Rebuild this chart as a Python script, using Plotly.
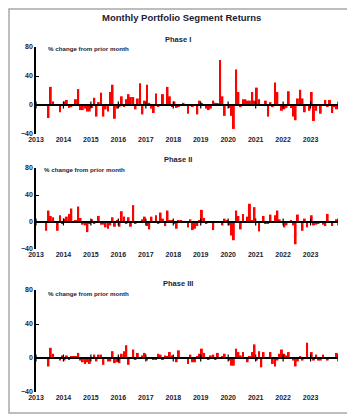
import plotly.graph_objects as go
import pandas as pd

# ---------------- data ----------------
start_month = "2013-05-01"
end_month = "2023-12-01"
year_labels = ["2013", "2014", "2015", "2016", "2017", "2018",
               "2019", "2020", "2021", "2022", "2023"]
phase_names = ["Phase I", "Phase II", "Phase III"]
y_ticks = [80, 40, 0, -40]

phase1 = [0, -18, 25, 5, 1, 0, -10, -1,
          5, 7, -4, -3, 1, 8, 22, -7, -7, -5, -9, -9,
          -4, 10, -16, 4, 17, -16, -6, -9, 18, 28, -19, -5,
          -3, 12, -2, 8, 15, 11, 11, -6, 9, 30, -13, 6,
          28, 3, -5, -11, 16, -2, 0, 15, 1, 25, 12, -2,
          5, -4, -2, -1, 3, 0, -12, 1, -2, 0, -13, 6,
          2, 0, -5, -7, -5, 6, 3, 2, 62, 12, -15, 1,
          -4, -15, -33, 49, 18, -3, 8, 8, 6, 6, 18, 6,
          24, 8, 0, 0, 6, -16, 4, -3, 31, 18, 0, -8,
          -6, -4, 19, -4, -16, -21, 9, 21, 9, -10, 0, -8,
          18, -22, -8, 0, -12, 0, 7, -2, 7, -11, -3, -6]

phase2 = [-13, 17, 9, 7, 1, -13, 10, -3,
          5, 8, 12, 20, 0, 3, 23, 6, -4, -5, -15, -2,
          4, -2, 0, 9, -4, -4, -8, -10, -5, 7, -7, 2,
          -7, 16, 8, -2, 7, -7, 25, -2, 0, 1, 4, 8,
          -6, -11, 8, 0, 10, -3, 14, 5, -6, 17, 3, 2,
          -2, -10, 3, 2, 1, 0, -8, 4, -12, -10, -6, 2,
          18, 6, -3, 0, 0, -12, 0, 0, 0, -5, 5, 2,
          -5, -20, -27, 17, 9, -11, 12, 0, 8, 27, 2, 22,
          0, -14, 0, 9, -2, -3, 11, 1, 10, 17, 4, 0,
          -8, -5, 0, 3, -5, -33, 11, 0, -13, 5, -8, 0,
          10, -5, -4, -2, 1, -4, -6, 12, -1, -6, 0, 4]

phase3 = [0, -10, 12, 5, 0, 0, -3, 3,
          -3, 3, -2, 2, 2, 2, 6, -3, -5, -7, -5, -7,
          0, 4, -4, 4, 4, -8, 0, -4, -4, 8, -6, -5,
          -6, 5, 8, 15, -8, 1, 10, -2, 6, 0, 3, 6,
          -3, 0, 0, -2, -2, 5, 4, -2, 3, 2, 7, 3,
          0, -5, 9, 0, 1, -1, -7, 4, -5, -5, 2, 5,
          11, 6, 1, -2, 3, 4, -2, 6, 0, 2, 5, 0,
          -3, -9, -9, 11, 7, 3, 7, 0, -5, 2, 7, 16,
          -3, 8, -11, 7, 1, 1, 7, -7, -10, -3, 5, 10,
          5, 3, 7, 0, -3, -10, -4, 2, -3, 0, 18, 0,
          7, -3, 4, -3, -3, 4, 0, -3, 0, 1, 1, 6]

series = [phase1, phase2, phase3]

# ---------------- layout helpers ----------------
PAGE_OFF = 8           # default page margin of the HTML body
W, H = 355 - PAGE_OFF, 416 - PAGE_OFF
FONT = "Liberation Sans, Arial, sans-serif"
TXT = "#1c2233"


def px_x(x):
    return (x - PAGE_OFF) / W


def px_y(y):
    return 1 - (y - PAGE_OFF) / H


months = pd.date_range(start_month, end_month, freq="MS")
year_dates = [f"{y}-01-01" for y in year_labels]
axis_end = f"{int(year_labels[-1]) + 1}-01-01"
cross_dates = year_dates + [axis_end]

# screen pixel positions (top, bottom) of each panel's plot area
panel_px = [(47, 134), (168, 249), (290, 392)]
title_px = [40, 159, 283]
note_px = [(46, 49), (42, 170), (46, 293)]
x_px = (36, 338)

fig = go.Figure()

for i, (name, vals) in enumerate(zip(phase_names, series)):
    sfx = "" if i == 0 else str(i + 1)
    xa, ya = "x" + sfx, "y" + sfx
    fig.add_trace(go.Bar(
        x=months, y=vals, xaxis=xa, yaxis=ya,
        xperiod="M1", xperiodalignment="middle",
        marker=dict(color="#ff0000", line=dict(width=0)),
        showlegend=False, hoverinfo="skip"))
    fig.add_trace(go.Scatter(
        x=[year_dates[0], axis_end], y=[0, 0], xaxis=xa, yaxis=ya,
        mode="lines", line=dict(color="black", width=2),
        showlegend=False, hoverinfo="skip"))
    fig.add_trace(go.Scatter(
        x=cross_dates, y=[0] * len(cross_dates), xaxis=xa, yaxis=ya,
        mode="markers",
        marker=dict(symbol="line-ns", size=5, line=dict(width=1.2, color="black")),
        showlegend=False, hoverinfo="skip"))

    top, bot = panel_px[i]
    fig.layout["xaxis" + sfx] = dict(
        domain=[px_x(x_px[0]), px_x(x_px[1])], anchor=ya,
        type="date", range=[year_dates[0], axis_end],
        tickvals=year_dates, ticktext=year_labels,
        showline=False, ticks="", showgrid=False, zeroline=False,
        automargin=False,
        tickfont=dict(family=FONT, size=7, color=TXT, weight="bold"))
    fig.layout["yaxis" + sfx] = dict(
        domain=[px_y(bot), px_y(top)], anchor=xa,
        range=[-40, 80], tickvals=y_ticks,
        showline=True, linecolor="black", linewidth=1.5,
        ticks="inside", ticklen=3, tickcolor="black", tickwidth=1,
        showgrid=False, zeroline=False, automargin=False,
        tickfont=dict(family=FONT, size=7, color=TXT, weight="bold"))

    fig.add_annotation(
        text=name, xref="paper", yref="paper", x=px_x(178), y=px_y(title_px[i]),
        xanchor="center", yanchor="middle", showarrow=False,
        font=dict(family=FONT, size=7.5, color=TXT, weight="bold"))
    nx, ny = note_px[i]
    fig.add_annotation(
        text="% change from prior month", xref="paper", yref="paper",
        x=px_x(nx), y=px_y(ny), xanchor="left", yanchor="middle",
        showarrow=False,
        font=dict(family=FONT, size=6.2, color=TXT, weight="bold"))

fig.add_annotation(
    text="Monthly Portfolio Segment Returns", xref="paper", yref="paper",
    x=px_x(181), y=px_y(10), xanchor="center", yanchor="top",
    showarrow=False, font=dict(family=FONT, size=9.5, color=TXT, weight="bold"))

fig.add_shape(type="rect", xref="paper", yref="paper",
              x0=px_x(9), x1=px_x(351), y0=px_y(413), y1=px_y(9),
              line=dict(color="#a8a8a8", width=1.5))

fig.update_layout(
    template="none",
    width=W, height=H, autosize=False,
    margin=dict(l=0, r=0, t=0, b=0),
    paper_bgcolor="white", plot_bgcolor="white",
    bargap=0.12,
    font=dict(family=FONT, color=TXT),
)

fig.write_html("out.html")
